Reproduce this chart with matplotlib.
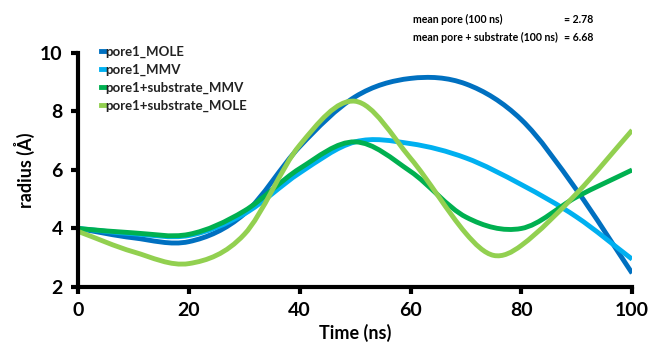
import matplotlib
matplotlib.use("Agg")
import matplotlib.pyplot as plt
from matplotlib.path import Path
from matplotlib.patches import PathPatch
from matplotlib.lines import Line2D
import numpy as np

plt.rcParams['font.family'] = ['Lato', 'DejaVu Sans']

time_ns = [0, 10, 20, 30, 40, 50, 60, 70, 80, 90, 100]
time_ns_sub_mole = [0, 10, 20, 30, 40, 50, 60, 70, 75, 80, 90, 100]
pore1_mole = [4.0, 3.68, 3.55, 4.5, 6.8, 8.5, 9.13, 8.94, 7.72, 5.31, 2.47]
pore1_mmv = [4.0, 3.82, 3.76, 4.5, 5.9, 6.96, 6.9, 6.41, 5.5, 4.39, 2.95]
sub_mmv = [4.0, 3.85, 3.8, 4.6, 6.05, 6.96, 5.95, 4.39, 4.0, 5.08, 6.0]
sub_mole = [3.9, 3.2, 2.8, 3.8, 6.85, 8.35, 6.4, 3.83, 3.08, 3.42, 5.2, 7.36]

series_names = ["pore1_MOLE", "pore1_MMV", "pore1+substrate_MMV", "pore1+substrate_MOLE"]
series_times = [time_ns, time_ns, time_ns, time_ns_sub_mole]
series_values = [pore1_mole, pore1_mmv, sub_mmv, sub_mole]
colors = ["#0070C0", "#00B0F0", "#00B050", "#92D050"]

xticks = [0, 20, 40, 60, 80, 100]
yticks = [2, 4, 6, 8, 10]


def smooth_path(x, y):
    """Excel-style smoothed line: cubic Bezier segments through every data point."""
    p = np.column_stack([x, y]).astype(float)
    n = len(p)
    verts = [p[0]]
    codes = [Path.MOVETO]
    for i in range(n - 1):
        p0 = p[i - 1] if i > 0 else p[i]
        p1 = p[i]
        p2 = p[i + 1]
        p3 = p[i + 2] if i + 2 < n else p[i + 1]
        h = p2[0] - p1[0]
        t1 = (p2 - p0) / (p2[0] - p0[0]) * h
        t2 = (p3 - p1) / (p3[0] - p1[0]) * h
        c1 = p1 + t1 / 3.0
        c2 = p2 - t2 / 3.0
        verts += [c1, c2, p2]
        codes += [Path.CURVE4] * 3
    return Path(verts, codes)


fig = plt.figure(figsize=(6.51, 3.53), dpi=100)
ax = fig.add_axes([0.12, 0.187, 0.851, 0.663])

handles = []
for name, ts, vals, c in zip(series_names, series_times, series_values, colors):
    patch = PathPatch(smooth_path(ts, vals), facecolor='none', edgecolor=c,
                      lw=3.5, capstyle='butt', joinstyle='round')
    ax.add_patch(patch)
    handles.append(Line2D([], [], color=c, lw=3.5, label=name))

ax.set_xlim(0, 100)
ax.set_ylim(2, 10)
ax.set_xticks(xticks)
ax.set_yticks(yticks)
for s in ['top', 'right']:
    ax.spines[s].set_visible(False)
for s in ['left', 'bottom']:
    ax.spines[s].set_linewidth(3)
ax.tick_params(width=3, length=5, labelsize=14, pad=6)
for lab in ax.get_xticklabels() + ax.get_yticklabels():
    lab.set_fontweight('bold')
ax.set_xlabel("Time (ns)", fontsize=13, fontweight='bold', labelpad=3)
ax.set_ylabel("radius (Å)", fontsize=13, fontweight='bold', labelpad=4)

leg = ax.legend(handles=handles, loc='upper left', bbox_to_anchor=(0.02, 1.08), frameon=False,
                handlelength=0.3, handletextpad=0.05, labelspacing=0.42,
                prop={'size': 9.5, 'weight': 'bold'})
for t in leg.get_texts():
    t.set_color('#222222')

fig.text(0.634, 0.935, "mean pore (100 ns)", fontsize=7.6, fontweight='bold')
fig.text(0.866, 0.935, "= 2.78", fontsize=7.6, fontweight='bold')
fig.text(0.634, 0.885, "mean pore + substrate (100 ns)", fontsize=7.6, fontweight='bold')
fig.text(0.866, 0.885, "= 6.68", fontsize=7.6, fontweight='bold')

fig.savefig("out.png", dpi=100)
